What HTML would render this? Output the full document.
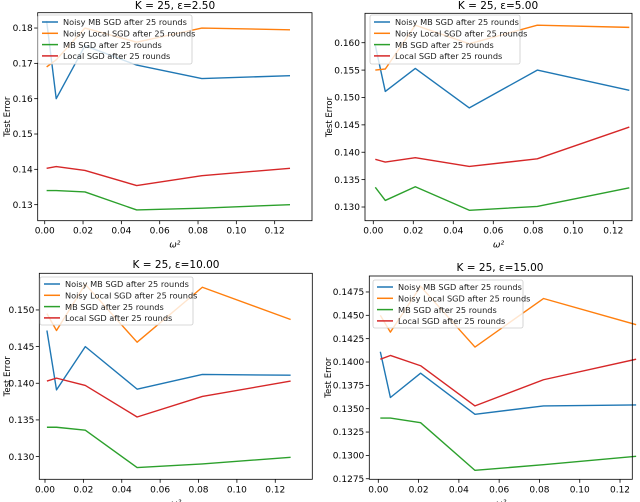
<!DOCTYPE html>
<html><head><meta charset="utf-8"><style>
html,body{margin:0;padding:0;background:#fff;}
svg{display:block;font-family:"DejaVu Sans","Liberation Sans",sans-serif;}
</style></head><body>
<svg id="chart" width="640" height="502" viewBox="0 0 640 502" xmlns="http://www.w3.org/2000/svg"></svg>
<script>
const xValues = [0.001, 0.006, 0.021, 0.048, 0.082, 0.128];
const seriesNames = ["Noisy MB SGD after 25 rounds","Noisy Local SGD after 25 rounds","MB SGD after 25 rounds","Local SGD after 25 rounds"];
const p1Blue = [0.182, 0.160, 0.175, 0.1695, 0.1657, 0.1665];
const p1Orange = [0.169, 0.171, 0.180, 0.176, 0.180, 0.1795];
const p1Green = [0.134, 0.134, 0.1336, 0.1285, 0.129, 0.130];
const p1Red = [0.1403, 0.1408, 0.1397, 0.1354, 0.1382, 0.1403];
const p2Blue = [0.1595, 0.1511, 0.1553, 0.1481, 0.155, 0.1513];
const p2Orange = [0.155, 0.1552, 0.1632, 0.1598, 0.1632, 0.1628];
const p2Green = [0.1336, 0.1312, 0.1337, 0.1294, 0.1301, 0.1335];
const p2Red = [0.1387, 0.1382, 0.139, 0.1374, 0.1388, 0.1446];
const p3Blue = [0.1472, 0.1391, 0.145, 0.1392, 0.1412, 0.1411];
const p3Orange = [0.1495, 0.1472, 0.1535, 0.1456, 0.1531, 0.1487];
const p3Green = [0.134, 0.134, 0.1336, 0.1285, 0.129, 0.1299];
const p3Red = [0.1403, 0.1407, 0.1397, 0.1354, 0.1382, 0.1403];
const p4Blue = [0.1411, 0.1362, 0.1388, 0.1344, 0.1353, 0.1354];
const p4Orange = [0.145, 0.1432, 0.1481, 0.1416, 0.1468, 0.144];
const p4Green = [0.134, 0.134, 0.1335, 0.1284, 0.129, 0.1299];
const p4Red = [0.1403, 0.1407, 0.1396, 0.1353, 0.1381, 0.1403];
const xTickLabels = ["0.00","0.02","0.04","0.06","0.08","0.10","0.12"];
const p1YTicks = ["0.13","0.14","0.15","0.16","0.17","0.18"];
const p2YTicks = ["0.130","0.135","0.140","0.145","0.150","0.155","0.160"];
const p3YTicks = ["0.130","0.135","0.140","0.145","0.150"];
const p4YTicks = ["0.1275","0.1300","0.1325","0.1350","0.1375","0.1400","0.1425","0.1450","0.1475"];
const panelTitles = ["2.50","5.00","10.00","15.00"];

const colors = ["#1f77b4","#ff7f0e","#2ca02c","#d62728"];
const NS = "http://www.w3.org/2000/svg";
const svg = document.getElementById('chart');
function mk(tag, attrs, parent){const e=document.createElementNS(NS,tag);for(const k in attrs)e.setAttribute(k,attrs[k]);(parent||svg).appendChild(e);return e;}

const panels = [
 {L:37.7,R:312,T:12.7,B:220.7,x0:-0.00366,x1:0.13948,y0:0.12546,y1:0.18434,yt:p1YTicks,data:[p1Blue,p1Orange,p1Green,p1Red],title:panelTitles[0],tx:175,ty:9,leg:[38,15,154,49],ylx:6},
 {L:365,R:632,T:13.3,B:220.7,x0:-0.00415,x1:0.12935,y0:0.1275,y1:0.16537,yt:p2YTicks,data:[p2Blue,p2Orange,p2Green,p2Red],title:panelTitles[1],tx:498,ty:9,leg:[370,15,150,49],ylx:328},
 {L:39.3,R:312.3,T:273.3,B:479.3,x0:-0.00297,x1:0.1393,y0:0.1269,y1:0.155,yt:p3YTicks,data:[p3Blue,p3Orange,p3Green,p3Red],title:panelTitles[2],tx:176,ty:268,leg:[40,277,153,48],ylx:6},
 {L:369.3,R:632.3,T:276,B:479.3,x0:-0.00447,x1:0.1261,y0:0.12744,y1:0.14921,yt:p4YTicks,data:[p4Blue,p4Orange,p4Green,p4Red],title:panelTitles[3],tx:500,ty:271,leg:[373,280,150,48],ylx:327}
];

panels.forEach((p,pi)=>{
  const g = mk('g',{});
  
  
  const sx = v => p.L + (v - p.x0)/(p.x1 - p.x0)*(p.R - p.L);
  const sy = v => p.B - (v - p.y0)/(p.y1 - p.y0)*(p.B - p.T);
  p.data.forEach((arr,si)=>{
    const pts = arr.map((v,i)=>sx(xValues[i]).toFixed(2)+','+sy(v).toFixed(2)).join(' ');
    const pl = mk('polyline',{points:pts,fill:'none',stroke:colors[si],'stroke-width':1.4,'stroke-linejoin':'round'},g);
    
    
  });
  const fr = mk('rect',{x:p.L,y:p.T,width:p.R-p.L,height:p.B-p.T,fill:'none',stroke:'#000','stroke-width':0.8},g);
  
  
  xTickLabels.forEach(t=>{
    const x = sx(parseFloat(t));
    mk('line',{x1:x,x2:x,y1:p.B,y2:p.B+3.5,stroke:'#000','stroke-width':0.8},g);
    const tx = mk('text',{x:x,y:p.B+13,'font-size':9,'text-anchor':'middle',fill:'#000'},g);
    tx.textContent = t;
    
    
  });
  p.yt.forEach(t=>{
    const y = sy(parseFloat(t));
    mk('line',{x1:p.L-3.5,x2:p.L,y1:y,y2:y,stroke:'#000','stroke-width':0.8},g);
    const ty = mk('text',{x:p.L-5,y:y+3.2,'font-size':9,'text-anchor':'end',fill:'#000'},g);
    ty.textContent = t;
    
    
  });
  const xl = mk('text',{x:(p.L+p.R)/2,y:p.B+27,'font-size':9,'font-style':'italic','text-anchor':'middle',fill:'#000'},g);
  xl.textContent = 'ω²';
  
  
  const yl = mk('text',{x:0,y:0,'font-size':8.5,'text-anchor':'middle',fill:'#000',transform:`translate(${p.ylx+4},${(p.T+p.B)/2}) rotate(-90)`},g);
  yl.textContent = 'Test Error';
  
  
  const tt = mk('text',{x:p.tx,y:p.ty,'font-size':10.5,'text-anchor':'middle',fill:'#000'},g);
  tt.textContent = 'K = 25, ε=' + p.title;
  
  
  const [lx,ly,lw,lh] = p.leg;
  const lg = mk('g',{},g);
  
  
  mk('rect',{x:lx,y:ly,width:lw,height:lh,rx:2,fill:'#fff','fill-opacity':0.8,stroke:'#ccc','stroke-width':0.8},lg);
  seriesNames.forEach((n,si)=>{
    const yy = ly + 7 + si*11.3;
    const e = mk('g',{},lg);
    
    
    mk('line',{x1:lx+4,x2:lx+20,y1:yy,y2:yy,stroke:colors[si],'stroke-width':1.5},e);
    const t = mk('text',{x:lx+25,y:yy+3.2,'font-size':8.2,fill:'#222'},e);
    t.textContent = n;
  });
});
</script>
</body></html>
